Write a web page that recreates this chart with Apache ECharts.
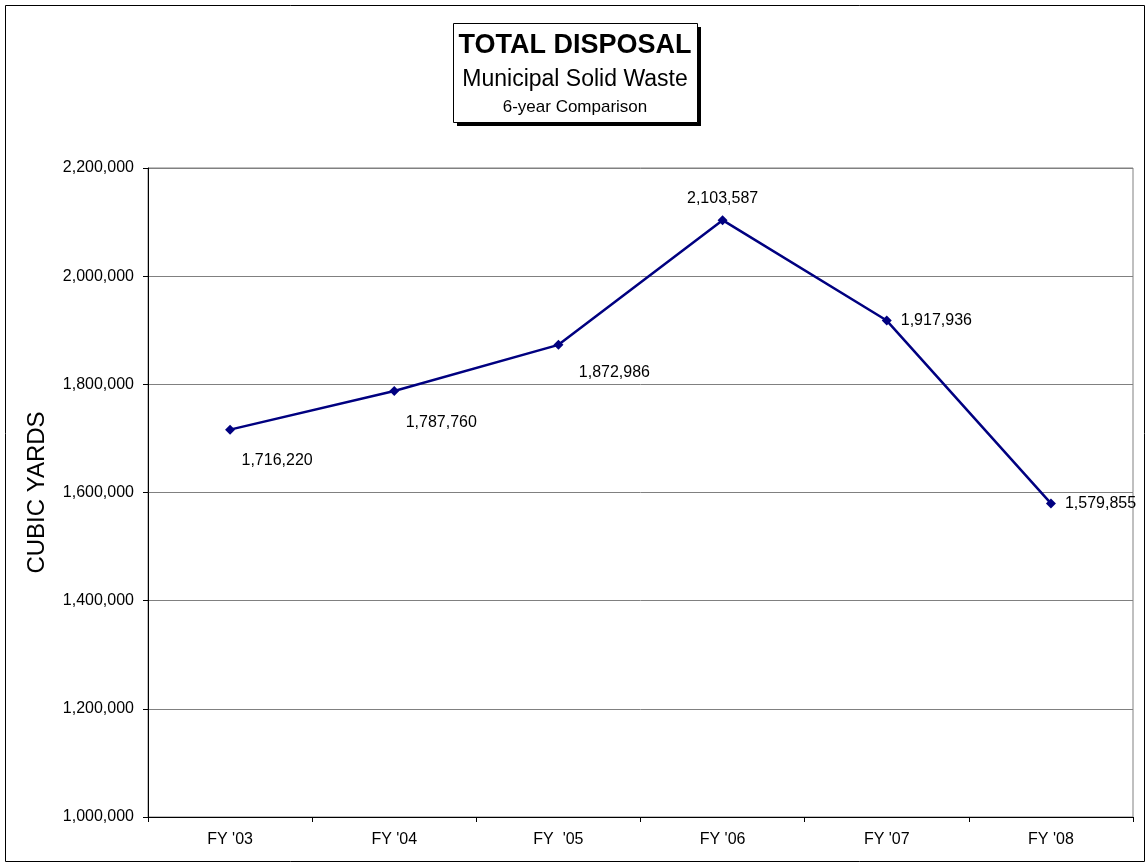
<!DOCTYPE html>
<html lang="en">
<head>
    <meta charset="UTF-8">
    <title>Total Disposal</title>
    <script src="https://cdn.jsdelivr.net/npm/echarts@6/dist/echarts.min.js"></script>
    <style>
        html, body { margin: 0; padding: 0; background: #ffffff; }
        #chart { width: 1147px; height: 864px; }
    </style>
</head>
<body>
    <div id="chart"></div>
<script>
    // fiscal years and disposal volumes
    var years = ["FY '03", "FY '04", "FY  '05", "FY '06", "FY '07", "FY '08"];
    var cubicYards = [1716220, 1787760, 1872986, 2103587, 1917936, 1579855];
    // where each value label sits relative to its point
    var labelPos = ['inside', 'inside', 'inside', 'top', 'right', 'right'];
    var labelOffset = [[47, 31], [47, 32], [56, 28], [0, 0], [0, 0], [0, 0]];

    var fmt = function (v) { return v.toLocaleString('en-US'); };
    var font = 'Liberation Sans, Arial, sans-serif';

    var points = cubicYards.map(function (v, i) {
        return {
            value: v,
            label: { position: labelPos[i], offset: labelOffset[i] }
        };
    });

    var myChart = echarts.init(document.getElementById('chart'));
    myChart.setOption({
        animation: false,
        backgroundColor: '#ffffff',
        textStyle: { fontFamily: font },
        grid: { left: 148, right: 14, top: 168, bottom: 47, show: true, borderColor: '#808080', borderWidth: 1 },
        xAxis: {
            type: 'category',
            data: years,
            boundaryGap: true,
            axisLine: { lineStyle: { color: '#000000', width: 1 } },
            axisTick: { show: true, length: 5, lineStyle: { color: '#000000' } },
            axisLabel: { color: '#000000', fontSize: 16, margin: 15, fontFamily: font }
        },
        yAxis: {
            type: 'value',
            min: 1000000,
            max: 2200000,
            interval: 200000,
            name: 'CUBIC YARDS',
            nameLocation: 'middle',
            nameGap: 99,
            nameTextStyle: { color: '#000000', fontSize: 24, fontFamily: font },
            axisLine: { show: true, lineStyle: { color: '#000000', width: 1 } },
            axisTick: { show: true, length: 5, lineStyle: { color: '#000000' } },
            axisLabel: { color: '#000000', fontSize: 16, margin: 14, fontFamily: font, formatter: fmt },
            splitLine: { lineStyle: { color: '#808080', width: 1 } }
        },
        series: [{
            type: 'line',
            data: points,
            symbol: 'diamond',
            symbolSize: 10,
            lineStyle: { color: '#000080', width: 2.5 },
            itemStyle: { color: '#000080' },
            label: {
                show: true,
                color: '#000000',
                fontSize: 16,
                fontFamily: font,
                distance: 9,
                formatter: function (p) { return fmt(p.value); }
            }
        }],
        graphic: [
            // outer chart border
            { type: 'rect', shape: { x: 5.5, y: 5.5, width: 1139, height: 856 },
              style: { fill: null, stroke: '#000000', lineWidth: 1 }, silent: true },
            // title box shadow + box
            { type: 'rect', shape: { x: 457, y: 27, width: 244, height: 99 },
              style: { fill: '#000000' }, silent: true },
            { type: 'rect', shape: { x: 453.5, y: 23.5, width: 244, height: 99 },
              style: { fill: '#ffffff', stroke: '#000000', lineWidth: 1 }, silent: true },
            { type: 'text', silent: true,
              style: { x: 575, y: 46, text: 'TOTAL DISPOSAL', align: 'center', verticalAlign: 'middle',
                       font: 'bold 27px ' + font, fill: '#000000' } },
            { type: 'text', silent: true,
              style: { x: 575, y: 80, text: 'Municipal Solid Waste', align: 'center', verticalAlign: 'middle',
                       font: '23px ' + font, fill: '#000000' } },
            { type: 'text', silent: true,
              style: { x: 575, y: 107, text: '6-year Comparison', align: 'center', verticalAlign: 'middle',
                       font: '17px ' + font, fill: '#000000' } }
        ]
    });
</script>
</body>
</html>
